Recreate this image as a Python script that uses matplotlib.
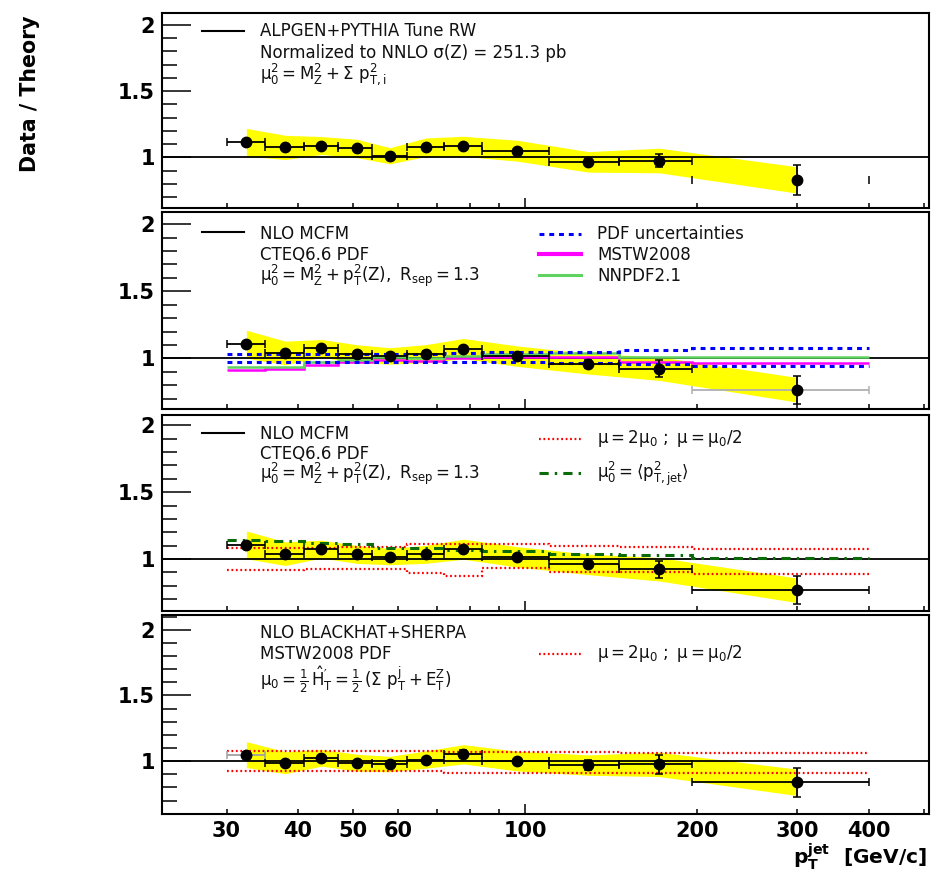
import numpy as np
import matplotlib
matplotlib.use("Agg")
import matplotlib.pyplot as plt
from matplotlib.lines import Line2D
from matplotlib.ticker import FixedLocator, FixedFormatter, MultipleLocator

plt.rcParams["font.family"] = ["DejaVu Sans"]
plt.rcParams["mathtext.fontset"] = "dejavusans"
plt.rcParams["mathtext.default"] = "regular"

# ---------------- data ----------------
# jet pT binning [GeV/c] and bin centres of the measurement
bin_edges = [30, 35, 41, 47, 54, 62, 72, 84, 110, 146, 196, 400]
pt_centers = [32.5, 38, 44, 50.8, 58, 67, 78, 97, 129, 172, 300]
# relative systematic uncertainty of the measurement (yellow band)
syst_rel = [0.094, 0.085, 0.062, 0.065, 0.06, 0.065, 0.07, 0.075, 0.08, 0.095, 0.12]

# data / ALPGEN+PYTHIA
ratio_alpgen = [1.115, 1.076, 1.09, 1.068, 1.013, 1.077, 1.084, 1.051, 0.967, 0.977, 0.83]
err_alpgen = [0.015, 0.015, 0.015, 0.018, 0.015, 0.015, 0.02, 0.015, 0.025, 0.05, 0.115]
# data / NLO MCFM (CTEQ6.6)
ratio_mcfm = [1.106, 1.04, 1.074, 1.034, 1.018, 1.035, 1.073, 1.016, 0.96, 0.923, 0.765]
err_mcfm = [0.015, 0.015, 0.018, 0.018, 0.015, 0.018, 0.022, 0.018, 0.03, 0.063, 0.105]
# data / NLO BLACKHAT+SHERPA
ratio_blackhat = [1.05, 0.988, 1.025, 0.988, 0.978, 1.012, 1.052, 1.0, 0.97, 0.975, 0.838]
err_blackhat = [0.018, 0.015, 0.015, 0.015, 0.018, 0.015, 0.03, 0.015, 0.04, 0.075, 0.11]

# MCFM variations relative to the CTEQ6.6 central prediction
pdf_up = [1.03, 1.03, 1.03, 1.032, 1.032, 1.035, 1.04, 1.045, 1.047, 1.06, 1.075]
pdf_down = [0.975, 0.975, 0.975, 0.975, 0.975, 0.975, 0.97, 0.97, 0.965, 0.958, 0.945]
mstw2008 = [0.913, 0.92, 0.953, 0.97, 0.99, 0.98, 1.0, 1.01, 1.01, 0.97, 0.965]
nnpdf21 = [0.932, 0.932, 0.97, 0.985, 1.012, 1.0, 1.02, 1.03, 1.04, 1.01, 1.01]
mcfm_scale_up = [1.082, 1.082, 1.082, 1.09, 1.09, 1.115, 1.115, 1.115, 1.1, 1.09, 1.078]
mcfm_scale_down = [0.915, 0.915, 0.928, 0.928, 0.928, 0.898, 0.87, 0.933, 0.903, 0.9, 0.888]
mcfm_ptjet_scale = [1.14, 1.135, 1.12, 1.115, 1.085, 1.08, 1.065, 1.057, 1.04, 1.027, 1.008]
# BLACKHAT+SHERPA scale variations
bh_scale_up = [1.075, 1.075, 1.075, 1.075, 1.075, 1.075, 1.072, 1.072, 1.072, 1.06, 1.06]
bh_scale_down = [0.922, 0.922, 0.922, 0.922, 0.922, 0.922, 0.912, 0.912, 0.912, 0.912, 0.912]

# ---------------- figure ----------------
W, H = 934, 872
fig = plt.figure(figsize=(W / 100, H / 100), dpi=100)

AX_L, AX_R = 161.7, 929.0


def rect(top, bottom):
    return [AX_L / W, 1 - bottom / H, (AX_R - AX_L) / W, (bottom - top) / H]


def fx(x):
    return x / W


def fy(y):
    return 1 - y / H


panel_specs = [
    (13.3, 208.5, (0.615, 2.088)),
    (212.3, 409.3, (0.62, 2.089)),
    (415.0, 610.7, (0.613, 2.078)),
    (615.0, 814.3, (0.595, 2.113)),
]

axes = []
for top, bottom, ylim in panel_specs:
    ax = fig.add_axes(rect(top, bottom))
    ax.set_xscale("log")
    ax.set_xlim(23.1, 510)
    ax.set_ylim(*ylim)
    for sp in ax.spines.values():
        sp.set_linewidth(1.5)
    ax.xaxis.set_major_locator(FixedLocator([100]))
    ax.xaxis.set_minor_locator(FixedLocator([30, 40, 50, 60, 70, 80, 90, 200, 300, 400, 500]))
    ax.xaxis.set_major_formatter(FixedFormatter(["100"]))
    ax.xaxis.set_minor_formatter(FixedFormatter(["30", "40", "50", "60", "", "", "",
                                                 "200", "300", "400", ""]))
    ax.yaxis.set_major_locator(FixedLocator([1.0, 1.5, 2.0]))
    ax.yaxis.set_major_formatter(FixedFormatter(["1", "1.5", "2"]))
    ax.yaxis.set_minor_locator(MultipleLocator(0.1))
    ax.tick_params(axis="x", which="both", direction="in", bottom=True, top=False,
                   width=1.1, labelsize=15, pad=5)
    ax.tick_params(axis="x", which="major", length=7.5)
    ax.tick_params(axis="x", which="minor", length=3.8)
    ax.tick_params(axis="y", which="both", direction="in", left=True, right=False,
                   width=1.1, labelsize=15, pad=5)
    ax.tick_params(axis="y", which="major", length=21)
    ax.tick_params(axis="y", which="minor", length=11)
    for lab in ax.get_xticklabels(which="both") + ax.get_yticklabels():
        lab.set_fontweight("bold")
    ax.axhline(1.0, color="black", lw=1.3, zorder=2)
    axes.append(ax)

for ax in axes[:-1]:
    ax.tick_params(axis="x", which="both", labelbottom=False)

x = np.array(pt_centers)
lo = np.array(bin_edges[:-1])
hi = np.array(bin_edges[1:])
srel = np.array(syst_rel)


def draw_measurement(ax, ratio, err, bar_colors):
    y = np.array(ratio)
    ax.fill_between(x, y * (1 - srel), y * (1 + srel), color="#ffff00", lw=0, zorder=1)
    for i in range(len(x)):
        col = bar_colors.get(i, "black")
        if col == "caps":
            ax.plot([lo[i], hi[i]], [y[i], y[i]], ls="none", marker="|", ms=6,
                    mew=1.1, color="black", zorder=4)
        else:
            ax.errorbar([x[i]], [y[i]], xerr=[[x[i] - lo[i]], [hi[i] - x[i]]],
                        fmt="none", ecolor=col, elinewidth=1.3, capsize=3,
                        capthick=1.1, zorder=4)
    ax.errorbar(x, y, yerr=err, fmt="o", color="black", ms=7.5, elinewidth=1.3,
                capsize=3, capthick=1.1, zorder=5)


def stairs(ax, vals, **kw):
    ax.stairs(vals, bin_edges, baseline=None, zorder=3, **kw)


ax1, ax2, ax3, ax4 = axes

# panel 1: ALPGEN+PYTHIA
draw_measurement(ax1, ratio_alpgen, err_alpgen, {10: "caps"})

# panel 2: MCFM with PDF variations
stairs(ax2, mstw2008, color="#ff00ff", lw=1.8)
stairs(ax2, nnpdf21, color="#5fd35f", lw=1.8)
stairs(ax2, pdf_up, color="#0000ff", lw=2.2, ls=(0, (1.6, 1.6)))
stairs(ax2, pdf_down, color="#0000ff", lw=2.2, ls=(0, (1.6, 1.6)))
draw_measurement(ax2, ratio_mcfm, err_mcfm, {10: "#b0b0b0"})

# panel 3: MCFM with scale variations
stairs(ax3, mcfm_scale_up, color="#ff0000", lw=1.6, ls=(0, (0.8, 1.2)))
stairs(ax3, mcfm_scale_down, color="#ff0000", lw=1.6, ls=(0, (0.8, 1.2)))
stairs(ax3, mcfm_ptjet_scale, color="#0b6b0b", lw=2.2, ls=(0, (3.0, 2.0, 0.8, 2.0)))
draw_measurement(ax3, ratio_mcfm, err_mcfm, {})

# panel 4: BLACKHAT+SHERPA
stairs(ax4, bh_scale_up, color="#ff0000", lw=1.6, ls=(0, (0.8, 1.2)))
stairs(ax4, bh_scale_down, color="#ff0000", lw=1.6, ls=(0, (0.8, 1.2)))
draw_measurement(ax4, ratio_blackhat, err_blackhat, {0: "#a0a0a0"})

# ---------------- legends ----------------
TXT = dict(fontsize=12, color="#111111", ha="left", va="baseline")


def key_line(x0, x1, y, **kw):
    fig.add_artist(Line2D([fx(x0), fx(x1)], [fy(y), fy(y)],
                          transform=fig.transFigure, **kw))


LX, RX = 260, 597

key_line(202, 244, 31, color="black", lw=1.5)
fig.text(fx(LX), fy(35.5), "ALPGEN+PYTHIA Tune RW", **TXT)
fig.text(fx(LX), fy(57.5), "Normalized to NNLO \u03c3(Z) = 251.3 pb", **TXT)
fig.text(fx(LX), fy(79), r"$\mu_0^2 = M_Z^2 + \Sigma\ p_{T,i}^2$", **TXT)

key_line(202, 244, 232, color="black", lw=1.5)
fig.text(fx(LX), fy(238.5), "NLO MCFM", **TXT)
fig.text(fx(LX), fy(260), "CTEQ6.6 PDF", **TXT)
fig.text(fx(LX), fy(281), r"$\mu_0^2 = M_Z^2 + p_T^2(Z),\ R_{sep}=1.3$", **TXT)
key_line(539, 581, 234.3, color="#0000ff", lw=2.2, ls=(0, (1.6, 1.6)))
fig.text(fx(RX), fy(239), "PDF uncertainties", **TXT)
key_line(539, 581, 254.5, color="#ff00ff", lw=3.0)
fig.text(fx(RX), fy(260), "MSTW2008", **TXT)
key_line(539, 581, 275, color="#5fd35f", lw=2.2)
fig.text(fx(RX), fy(281), "NNPDF2.1", **TXT)

key_line(202, 244, 432.7, color="black", lw=1.5)
fig.text(fx(LX), fy(438.5), "NLO MCFM", **TXT)
fig.text(fx(LX), fy(458.5), "CTEQ6.6 PDF", **TXT)
fig.text(fx(LX), fy(479), r"$\mu_0^2 = M_Z^2 + p_T^2(Z),\ R_{sep}=1.3$", **TXT)
key_line(539, 581, 439, color="#ff0000", lw=1.6, ls=(0, (0.8, 1.2)))
fig.text(fx(RX), fy(443), r"$\mu = 2\mu_0\ ;\ \mu = \mu_0/2$", **TXT)
key_line(539, 581, 473.3, color="#0b6b0b", lw=2.2, ls=(0, (3.0, 2.0, 0.8, 2.0)))
fig.text(fx(RX), fy(478), r"$\mu_0^2 = \langle p_{T,jet}^2 \rangle$", **TXT)

fig.text(fx(LX), fy(638.5), "NLO BLACKHAT+SHERPA", **TXT)
fig.text(fx(LX), fy(659), "MSTW2008 PDF", **TXT)
fig.text(fx(LX), fy(686),
         r"$\mu_0 = \frac{1}{2}\,\hat{H}^{\prime}_T = \frac{1}{2}\,(\Sigma\ p_T^j + E_T^Z)$",
         **TXT)
key_line(539, 581, 654.3, color="#ff0000", lw=1.6, ls=(0, (0.8, 1.2)))
fig.text(fx(RX), fy(658), r"$\mu = 2\mu_0\ ;\ \mu = \mu_0/2$", **TXT)

# ---------------- axis titles ----------------
fig.text(fx(30), fy(93.5), "Data / Theory", rotation=90, ha="center", va="center",
         fontsize=14.8, fontweight="bold")
fig.text(fx(927), fy(864), r"$\mathbf{p}_\mathbf{T}^\mathbf{jet}$  [GeV/c]",
         ha="right", va="baseline", fontsize=14.5, fontweight="bold")

fig.savefig("out.png", dpi=100)
